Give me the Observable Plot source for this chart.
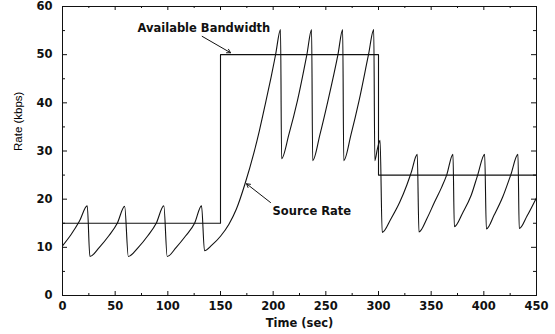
<!DOCTYPE html>
<html>
<head>
<meta charset="utf-8">
<script src="https://cdn.jsdelivr.net/npm/d3@7"></script>
<script src="https://cdn.jsdelivr.net/npm/@observablehq/plot@0.6"></script>
<style>
  html, body { margin: 0; padding: 0; background: #fff; }
</style>
</head>
<body>
<div id="chart"></div>
<script>
// Available bandwidth (step after): time (sec) and rate (kbps)
const bwTime = [0, 150, 300, 450];
const bwRate = [15, 50, 25, 25];

// Source rate: [time (sec), rate (kbps)]
const sourceRate = [
  [0, 10.3], [8, 12.6], [16, 15.4], [23.5, 18.6],
  [26, 8.1], [35, 10.0], [44, 12.4], [52, 15], [59, 18.5],
  [62.5, 8.1], [72, 10.0], [81, 12.4], [89, 15], [96.2, 18.6],
  [99.4, 8.1], [108, 10.0], [117, 12.4], [125.4, 15], [132, 18.6],
  [134.8, 9.3], [142, 10.5], [150, 12.3], [158, 14.8], [165, 17.9], [173, 23],
  [181.7, 29.6], [187, 34.3], [192.8, 40], [198, 45.3], [202.3, 50], [207, 55.2],
  [208, 28.4], [215, 33.5], [223, 40.4], [232, 50], [236.5, 55.2],
  [237.5, 28], [244.5, 33.5], [252, 40.4], [261.5, 50], [266, 55.2],
  [267, 28], [274, 33.5], [281.5, 40.4], [290.5, 50], [295.5, 55.2],
  [296.5, 28], [299, 30.5], [301.5, 32.2],
  [303.5, 13.1], [312, 16], [320, 19.3], [327, 23], [331, 25.5], [336.8, 29.3],
  [338.4, 13.2], [346, 16], [353, 19.3], [360, 22.5], [364.7, 25], [370.7, 29.3],
  [372, 14.3], [380, 17.2], [388, 20.8], [394, 24.9], [400.8, 29.3],
  [402.4, 13.8], [410, 16.8], [418, 20.5], [425.5, 25], [432.4, 29.3],
  [433.6, 13.9], [441, 16.5], [450, 20.3]
];

// Axis ticks
const xTickLabels = [0, 50, 100, 150, 200, 250, 300, 350, 400, 450];
const xMinorTicks = [25, 75, 125, 175, 225, 275, 325, 375, 425];
const yTickLabels = [0, 10, 20, 30, 40, 50, 60];
const yMinorTicks = [5, 15, 25, 35, 45, 55];

// Annotations (data coordinates)
const labelTexts = ["Available Bandwidth", "Source Rate"];
const labelX = [71.2, 199.4];
const labelY = [54.8, 16.8];
const arrowFrom = [[132.6, 53.8], [197.5, 19.3]];
const arrowTo = [[159.5, 50.4], [174.7, 23.2]];

const xTitle = "Time (sec)";
const yTitle = "Rate (kbps)";

const W = 555, H = 334;
const mL = 62, mR = 19, mT = 6, mB = 39;
const innerW = W - mL - mR, innerH = H - mT - mB;

const bandwidth = bwTime.map((t, i) => ({t, r: bwRate[i]}));
const source = sourceRate.map(([t, r]) => ({t, r}));
const labels = labelTexts.map((text, i) => ({text, x: labelX[i], y: labelY[i]}));
const arrows = arrowFrom.map((a, i) => ({x1: a[0], y1: a[1], x2: arrowTo[i][0], y2: arrowTo[i][1]}));

const ink = "#111";

const chart = Plot.plot({
  width: W,
  height: H,
  marginLeft: mL,
  marginRight: mR,
  marginTop: mT,
  marginBottom: mB,
  x: {domain: [0, 450]},
  y: {domain: [0, 60]},
  style: {fontFamily: "DejaVu Sans", fontSize: "11.5px", fontWeight: "bold", color: ink, background: "#fff"},
  marks: [
    Plot.frame({stroke: ink, strokeWidth: 1}),
    // inward ticks on all four sides
    Plot.tickX(xTickLabels, {x: d => d, insetTop: innerH - 4, stroke: ink}),
    Plot.tickX(xMinorTicks, {x: d => d, insetTop: innerH - 2, stroke: ink}),
    Plot.tickX(xTickLabels, {x: d => d, insetBottom: innerH - 4, stroke: ink}),
    Plot.tickX(xMinorTicks, {x: d => d, insetBottom: innerH - 2, stroke: ink}),
    Plot.tickY(yTickLabels, {y: d => d, insetRight: innerW - 5, stroke: ink}),
    Plot.tickY(yMinorTicks, {y: d => d, insetRight: innerW - 3, stroke: ink}),
    Plot.tickY(yTickLabels, {y: d => d, insetLeft: innerW - 5, stroke: ink}),
    Plot.tickY(yMinorTicks, {y: d => d, insetLeft: innerW - 3, stroke: ink}),
    Plot.axisX(xTickLabels, {tickSize: 0, tickPadding: 6, label: null, fill: ink}),
    Plot.axisY(yTickLabels, {tickSize: 0, tickPadding: 10, label: null, fill: ink}),
    // data
    Plot.line(bandwidth, {x: "t", y: "r", curve: "step-after", stroke: ink, strokeWidth: 1.1}),
    Plot.line(source, {x: "t", y: "r", curve: "monotone-x", stroke: ink, strokeWidth: 1.1}),
    // annotations
    Plot.arrow(arrows, {x1: "x1", y1: "y1", x2: "x2", y2: "y2", stroke: ink, strokeWidth: 1, headLength: 6}),
    Plot.text(labels, {x: "x", y: "y", text: "text", textAnchor: "start", lineAnchor: "bottom", fill: ink, fontSize: 11.5, fontWeight: "bold", fontFamily: "DejaVu Sans"}),
    // axis titles
    Plot.text([xTitle], {frameAnchor: "bottom", lineAnchor: "bottom", dy: 31, fill: ink, fontSize: 11.5, fontWeight: "bold", fontFamily: "DejaVu Sans"}),
    Plot.text([yTitle], {frameAnchor: "left", rotate: -90, dx: -44, fill: "#000", fontSize: 11.5, fontWeight: "normal", fontFamily: "Liberation Sans"})
  ]
});

document.getElementById("chart").appendChild(chart);
</script>
</body>
</html>
